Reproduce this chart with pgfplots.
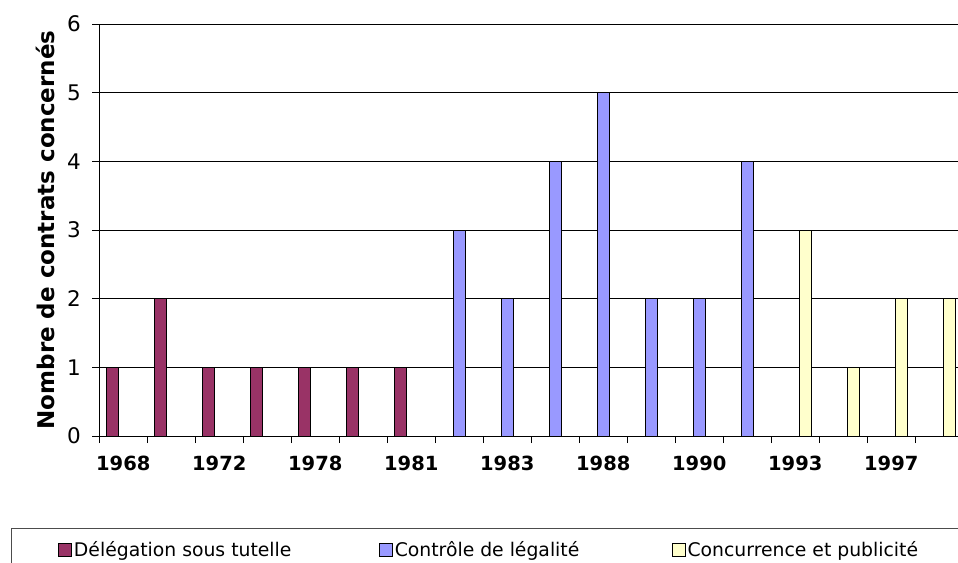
\documentclass[border=0pt]{standalone}
\usepackage{pgfplots}
\pgfplotsset{compat=1.18}
\usepackage{fontspec}
\setmainfont{DejaVu Sans}
\definecolor{cpurple}{HTML}{993366}
\definecolor{cblue}{HTML}{9999FF}
\definecolor{cyellow}{HTML}{FFFFCC}
\begin{document}
\begin{tikzpicture}[x=1pt,y=1pt]
\path[use as bounding box] (0,0) rectangle (958,-562);
\begin{axis}[
  at={(99.3pt,-436pt)}, anchor=south west,
  scale only axis, width=858.7pt, height=412pt,
  xmin=-0.5, xmax=17.39, ymin=0, ymax=6,
  axis lines=left, axis line style={-, black, line width=0.8pt},
  ytick={0,1,...,6}, ymajorgrids, grid style={black, line width=0.7pt},
  xtick={-0.5,0.5,...,17.5}, xticklabels={},
  tick align=outside, major tick length=7pt, tick style={black, line width=0.8pt},
  extra x ticks={0,2,4,6,8,10,12,14,16},
  extra x tick labels={1968,1972,1978,1981,1983,1988,1990,1993,1997},
  extra x tick style={major tick length=0pt, tick label style={font=\fontsize{19.5}{22}\selectfont\bfseries, text height=14.5pt, text depth=0pt, anchor=north, yshift=-16pt}},
  /pgf/number format/assume math mode=true,
  yticklabel style={font=\fontsize{21.5}{24}\selectfont, xshift=-8pt},
  ylabel={Nombre de contrats concernés},
  ylabel style={font=\fontsize{23}{26}\selectfont\bfseries, at={(rel axis cs:-0.0632,0.5)}, anchor=center},
  ybar, bar width=11.5pt,
  legend columns=3,
  legend style={draw=none, fill=none, at={(rel axis cs:-0.0481,-0.2767)}, anchor=west, inner sep=0pt,
    font=\fontsize{18.8}{22}\selectfont, /tikz/every even column/.append style={column sep=0pt}},
  legend image code/.code={\draw[#1, draw=black, line width=0.8pt] (0pt,-6.5pt) rectangle (13pt,6.5pt);},
  clip=false,
]
\addplot[fill=cpurple, draw=black, line width=0.8pt, bar shift=-11pt] coordinates {(0,1) (1,2) (2,1) (3,1) (4,1) (5,1) (6,1)};
\addlegendentry{\makebox[303pt][l]{Délégation sous tutelle}}
\addplot[fill=cblue, draw=black, line width=0.8pt, bar shift=0pt] coordinates {(7,3) (8,2) (9,4) (10,5) (11,2) (12,2) (13,4)};
\addlegendentry{\makebox[275pt][l]{Contrôle de légalité}}
\addplot[fill=cyellow, draw=black, line width=0.8pt, bar shift=10pt] coordinates {(14,3) (15,1) (16,2) (17,2)};
\addlegendentry{Concurrence et publicité}
\end{axis}
\draw[black!70, line width=0.8pt] (970,-528) -- (11,-528) -- (11,-580);
\end{tikzpicture}
\end{document}
